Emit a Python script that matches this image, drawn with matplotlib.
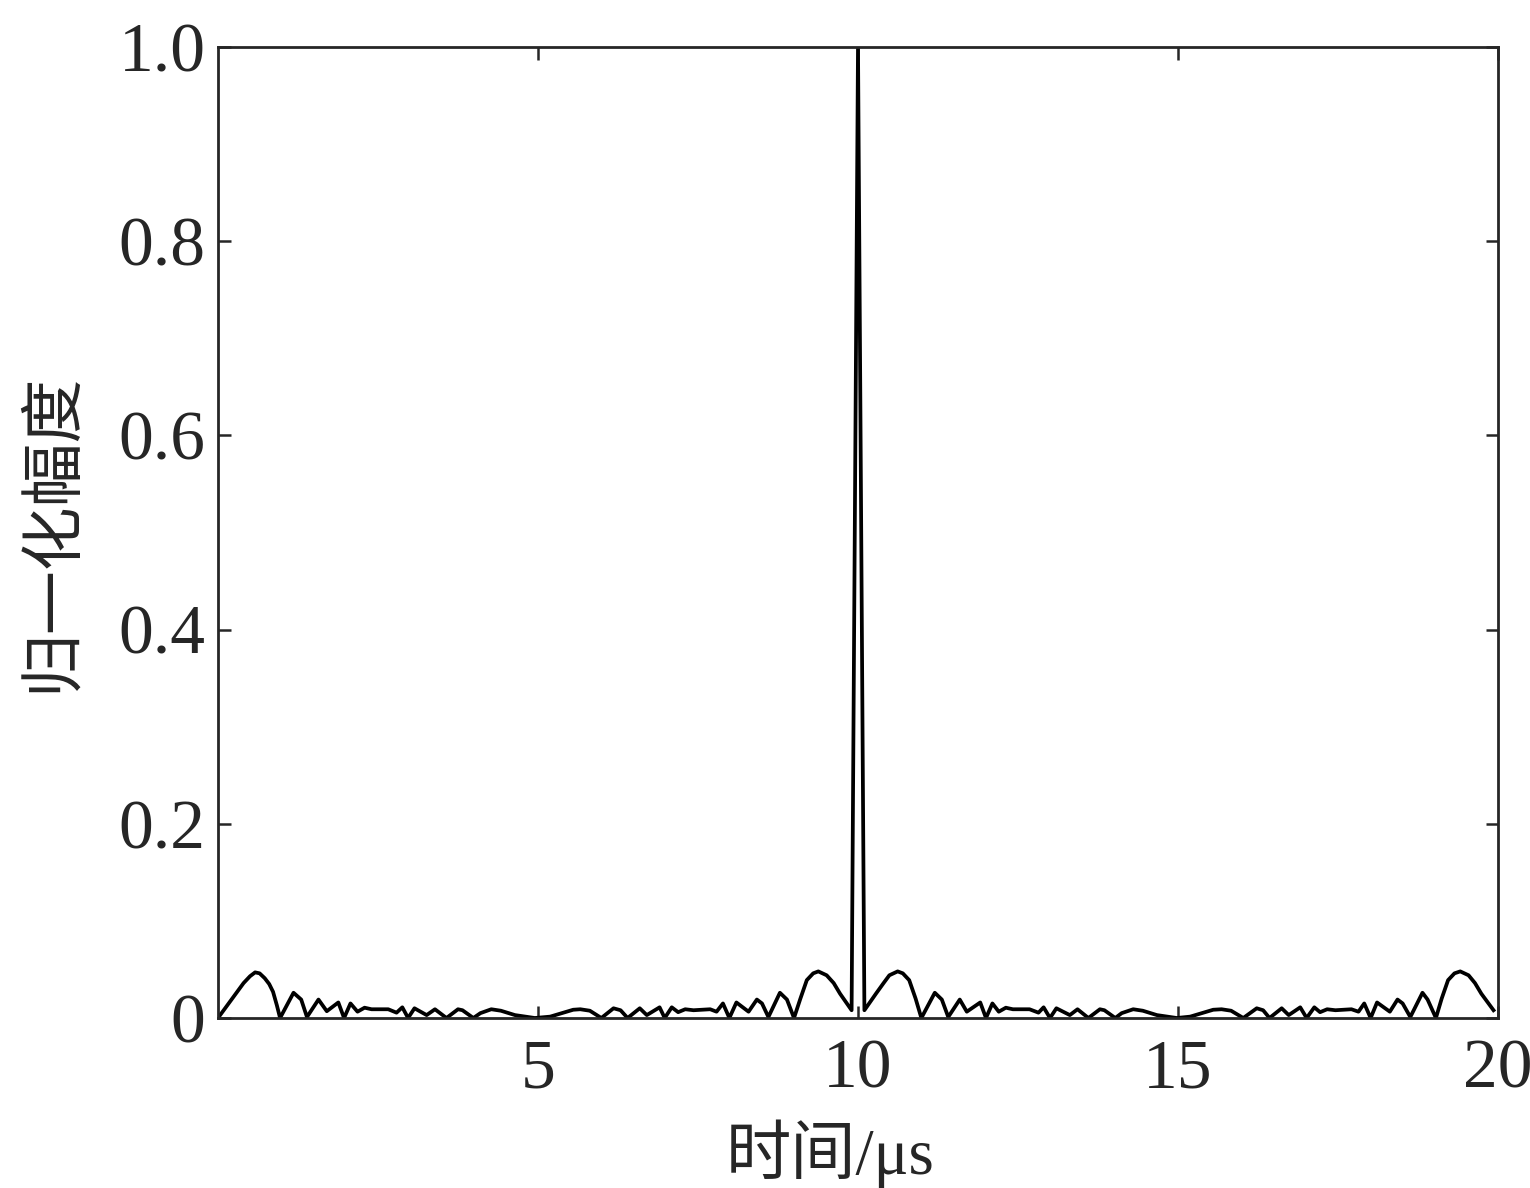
import matplotlib
matplotlib.use("Agg")
import matplotlib.pyplot as plt

# time (us) and normalized amplitude
t_vals = [0.0, 0.1, 0.2, 0.3, 0.4, 0.5, 0.58, 0.65, 0.73, 0.8, 0.86, 0.92, 0.97,
          1.18, 1.30, 1.39, 1.57, 1.70, 1.88, 1.97, 2.07, 2.18, 2.29, 2.40, 2.66,
          2.79, 2.88, 2.97, 3.07, 3.26, 3.39, 3.57, 3.75, 3.82, 3.99, 4.10, 4.27,
          4.42, 4.64, 4.95,
          5.19, 5.40, 5.55, 5.66, 5.81, 5.99, 6.18, 6.29, 6.40, 6.59, 6.70, 6.90,
          6.98, 7.09, 7.19, 7.30, 7.43, 7.69, 7.79, 7.89, 7.99, 8.10, 8.29, 8.42,
          8.50, 8.60, 8.78, 8.89, 9.00, 9.10, 9.20, 9.30, 9.38, 9.51, 9.62, 9.72,
          9.90, 10.0,
          10.10, 10.28, 10.40, 10.49, 10.62, 10.70, 10.80, 10.90, 10.99, 11.20,
          11.31, 11.41, 11.59, 11.70, 11.91, 12.00, 12.10, 12.20, 12.31, 12.42,
          12.68, 12.82, 12.90, 13.00, 13.10, 13.31, 13.43, 13.60, 13.78, 13.85,
          14.02, 14.12, 14.30, 14.45, 14.67, 14.98,
          15.19, 15.40, 15.55, 15.68, 15.83, 16.02, 16.23, 16.33, 16.43, 16.62,
          16.73, 16.91, 17.01, 17.13, 17.22, 17.33, 17.46, 17.71, 17.82, 17.91,
          18.01, 18.11, 18.31, 18.43, 18.51, 18.63, 18.82, 18.90, 19.03, 19.12,
          19.22, 19.32, 19.41, 19.54, 19.64, 19.74, 19.93]
amp_vals = [0.0, 0.009, 0.018, 0.027, 0.036, 0.043, 0.047, 0.046, 0.041, 0.035, 0.027, 0.013, 0.0,
            0.026, 0.019, 0.001, 0.019, 0.007, 0.016, 0.0, 0.015, 0.0065, 0.0106, 0.009, 0.009,
            0.0055, 0.011, 0.0, 0.010, 0.003, 0.009, 0.0, 0.009, 0.008, 0.0, 0.005, 0.009,
            0.0075, 0.003, 0.0,
            0.0014, 0.0055, 0.0085, 0.009, 0.0075, 0.0, 0.010, 0.008, 0.0, 0.010, 0.003, 0.011,
            0.0, 0.011, 0.006, 0.009, 0.008, 0.009, 0.0065, 0.015, 0.0, 0.016, 0.0065, 0.019,
            0.015, 0.001, 0.026, 0.019, 0.0, 0.020, 0.039, 0.046, 0.048, 0.044, 0.036, 0.025,
            0.008, 1.0,
            0.008, 0.025, 0.036, 0.044, 0.048, 0.046, 0.039, 0.020, 0.0, 0.026,
            0.019, 0.001, 0.019, 0.0065, 0.016, 0.0, 0.015, 0.0065, 0.0106, 0.009,
            0.009, 0.0055, 0.011, 0.0, 0.010, 0.003, 0.009, 0.0, 0.009, 0.008,
            0.0, 0.005, 0.009, 0.0075, 0.003, 0.0,
            0.0014, 0.0055, 0.0085, 0.009, 0.0075, 0.0, 0.010, 0.008, 0.0, 0.010,
            0.003, 0.011, 0.0, 0.011, 0.006, 0.009, 0.008, 0.009, 0.0065, 0.015,
            0.0, 0.016, 0.0065, 0.019, 0.015, 0.001, 0.026, 0.019, 0.0, 0.020,
            0.039, 0.046, 0.048, 0.044, 0.036, 0.025, 0.008]

x_ticks = [5, 10, 15, 20]
x_tick_labels = ["5", "10", "15", "20"]
y_ticks = [0, 0.2, 0.4, 0.6, 0.8, 1.0]
y_tick_labels = ["0", "0.2", "0.4", "0.6", "0.8", "1.0"]
x_label = "时间/μs"
y_label = "归一化幅度"

fam = ["Liberation Serif", "Noto Sans CJK SC", "DejaVu Sans"]
plt.rcParams["font.family"] = fam

fig = plt.figure(figsize=(15.3, 11.88), dpi=100)
ax = fig.add_axes([218 / 1530, 1 - 1018 / 1188, 1280 / 1530, 971 / 1188])

ax.plot(t_vals, amp_vals, color="black", linewidth=2.7)
ax.set_xlim(0, 20)
ax.set_ylim(0, 1.0)

ax.set_xticks(x_ticks)
ax.set_xticklabels(x_tick_labels)
ax.set_yticks(y_ticks)
ax.set_yticklabels(y_tick_labels)

ax.tick_params(axis="x", pad=15)
ax.tick_params(axis="y", pad=9)
ax.tick_params(axis="both", which="both", direction="in", length=9, width=1.8,
               top=True, right=True, labelsize=50, colors="#262626")
for lbl in ax.get_xticklabels() + ax.get_yticklabels():
    lbl.set_color("#262626")
for sp in ax.spines.values():
    sp.set_linewidth(2.0)
    sp.set_color("#262626")

ax.set_xlabel(x_label, fontsize=47, family=fam, color="#262626")
ax.set_ylabel(y_label, fontsize=46, family=["Noto Sans CJK SC"], color="#262626")
ax.xaxis.set_label_coords(0.478, -0.105)
ax.yaxis.set_label_coords(-0.104, 0.5)

fig.savefig("out.png", dpi=100)
